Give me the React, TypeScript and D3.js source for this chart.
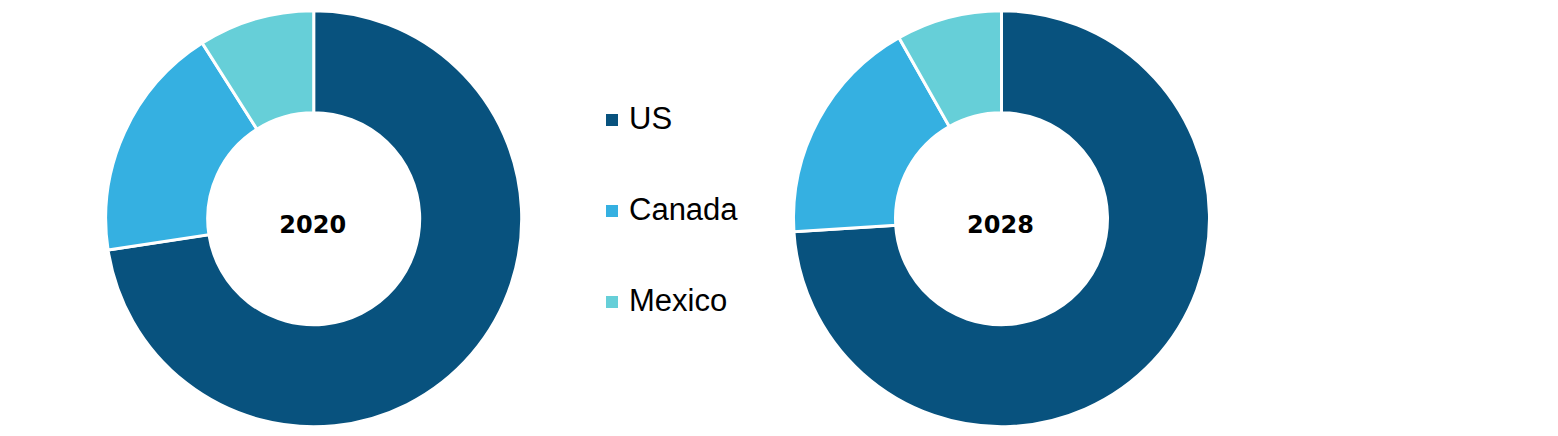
import React from "react";
import * as d3 from "d3";

const categories = ["US", "Canada", "Mexico"];
const colors = ["#08527e", "#35b0e1", "#66cfd8"];
const values2020 = [72.6, 18.4, 9.0];
const values2028 = [74.0, 17.8, 8.2];
const years = ["2020", "2028"];

const W = 1558;
const H = 436;

function Donut({ cx, cy, values, label }: { cx: number; cy: number; values: number[]; label: string }) {
  const pie = d3.pie<number>().sort(null).value((d) => d);
  const arc = d3.arc<d3.PieArcDatum<number>>().innerRadius(106).outerRadius(208);
  const arcs = pie(values);
  return (
    <g transform={`translate(${cx},${cy})`}>
      {arcs.map((a, i) => (
        <path key={i} d={arc(a) || ""} fill={colors[i]} stroke="#ffffff" strokeWidth={3} strokeLinejoin="miter" />
      ))}
      <text
        x={-1}
        y={7}
        textAnchor="middle"
        dominantBaseline="middle"
        fontFamily="'DejaVu Sans', sans-serif"
        fontWeight="bold"
        fontSize={24}
        fill="#000"
      >
        {label}
      </text>
    </g>
  );
}

export default function App() {
  const legendY = d3.scalePoint<string>().domain(categories).range([120, 302]);
  return (
    <svg width={W} height={H} style={{ position: "absolute", left: 0, top: 0, background: "#fff" }}>
      <Donut cx={313.7} cy={218.7} values={values2020} label={years[0]} />
      <Donut cx={1001.5} cy={218.7} values={values2028} label={years[1]} />
      {categories.map((c, i) => (
        <g key={c} transform={`translate(606,${legendY(c)})`}>
          <rect x={0} y={-6} width={12} height={12} fill={colors[i]} />
          <text
            x={23}
            y={1}
            dominantBaseline="middle"
            fontFamily="'Liberation Sans', Arial, sans-serif"
            fontSize={31}
            fill="#000"
          >
            {c}
          </text>
        </g>
      ))}
    </svg>
  );
}
